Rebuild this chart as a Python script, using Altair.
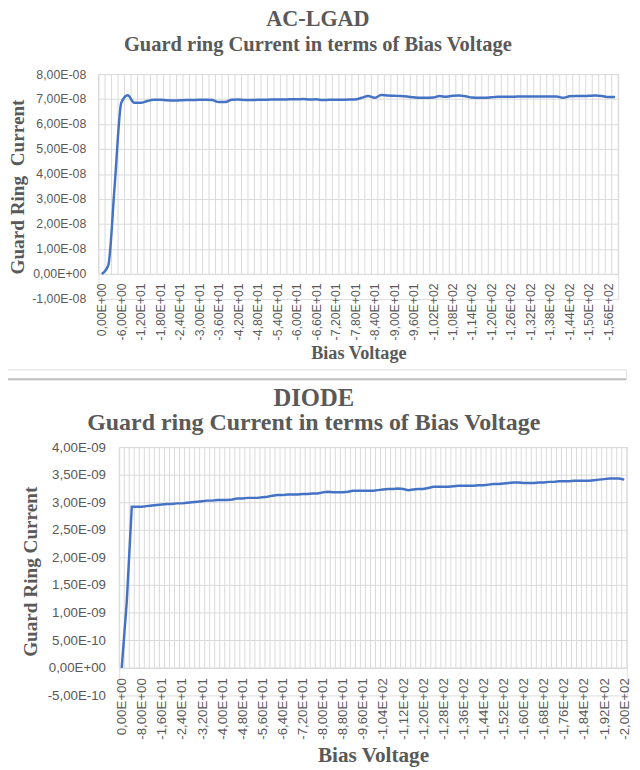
import altair as alt
import pandas as pd

# ---------------- data ----------------
TOP_TITLE = "AC-LGAD"
BOTTOM_TITLE = "DIODE"
SUBTITLE = "Guard ring Current in terms of Bias Voltage"
X_TITLE = "Bias Voltage"
TOP_Y_TITLE = "Guard Ring\u00a0 Current"
BOTTOM_Y_TITLE = "Guard Ring Current"

# bias voltage categories (V)
TOP_VOLTAGE = list(range(0, -160, -2))
BOTTOM_VOLTAGE = list(range(0, -202, -2))

# guard ring current, AC-LGAD (units of 1E-08)
TOP_CURRENT_E8 = [
    0.00, 0.35, 3.60, 6.85, 7.15, 6.85, 6.85, 6.92, 6.97, 6.97,
    6.95, 6.94, 6.95, 6.96, 6.96, 6.97, 6.97, 6.96, 6.88, 6.88,
    6.97, 6.98, 6.96, 6.96, 6.97, 6.97, 6.98, 6.98, 6.98, 6.99,
    6.99, 7.00, 6.98, 6.99, 6.96, 6.97, 6.97, 6.97, 6.98, 6.98,
    7.05, 7.12, 7.05, 7.16, 7.14, 7.13, 7.12, 7.10, 7.07, 7.05,
    7.05, 7.06, 7.12, 7.09, 7.13, 7.14, 7.11, 7.06, 7.05, 7.05,
    7.07, 7.09, 7.09, 7.09, 7.10, 7.10, 7.10, 7.10, 7.10, 7.10,
    7.10, 7.05, 7.11, 7.12, 7.12, 7.13, 7.14, 7.12, 7.08, 7.08,
]

# guard ring current, DIODE (units of 1E-09)
BOTTOM_CURRENT_E9 = [
    0.00, 1.20, 2.92, 2.92, 2.92, 2.93, 2.94, 2.95, 2.96, 2.97,
    2.97, 2.98, 2.98, 2.99, 3.00, 3.01, 3.02, 3.03, 3.03, 3.04,
    3.04, 3.04, 3.05, 3.07, 3.07, 3.08, 3.08, 3.08, 3.09, 3.10,
    3.12, 3.13, 3.13, 3.14, 3.14, 3.14, 3.15, 3.15, 3.16, 3.16,
    3.18, 3.19, 3.18, 3.18, 3.18, 3.19, 3.21, 3.21, 3.21, 3.21,
    3.21, 3.22, 3.23, 3.24, 3.24, 3.25, 3.24, 3.22, 3.23, 3.24,
    3.24, 3.26, 3.28, 3.28, 3.28, 3.28, 3.29, 3.30, 3.30, 3.30,
    3.30, 3.31, 3.31, 3.32, 3.33, 3.33, 3.34, 3.35, 3.36, 3.36,
    3.35, 3.35, 3.35, 3.36, 3.36, 3.37, 3.37, 3.38, 3.38, 3.38,
    3.39, 3.39, 3.39, 3.39, 3.40, 3.41, 3.42, 3.43, 3.43, 3.43,
    3.41,
]

TOP_X_TICKS = list(range(0, -157, -6))
BOTTOM_X_TICKS = list(range(0, -201, -8))
TOP_Y_TICKS = [-1.0e-08, 0.0, 1.0e-08, 2.0e-08, 3.0e-08, 4.0e-08,
               5.0e-08, 6.0e-08, 7.0e-08, 8.0e-08]
BOTTOM_Y_TICKS = [-5.0e-10, 0.0, 5.0e-10, 1.0e-09, 1.5e-09, 2.0e-09,
                  2.5e-09, 3.0e-09, 3.5e-09, 4.0e-09]

# ---------------- styling ----------------
GRID = "#d9d9d9"
TEXT = "#595959"
LINE = "#4472C4"
SEP = "#bfbfbf"
SERIF = "Liberation Serif"
SANS = "Liberation Sans"


def sci_expr():
    f = "format(datum.value,'.2e')"
    man = f"replace(split({f},'e')[0],'\u2212','-')"
    ex = f"split({f},'e')[1]"
    return (f"replace({man},'.',',') + 'E' + slice({ex},0,1) + "
            f"(length({ex}) < 3 ? '0' : '') + slice({ex},1)")


def panel(volts, currents, xticks, yticks, title, ytitle, width, height,
          title_size, sub_size, sub_pad, title_offset, title_dx, axis_size,
          ytitle_size, xtitle_size, ytitle_pad, ylabel_pad, xlabel_pad,
          xtitle_pad, interp):
    ymin, ymax = yticks[0], yticks[-1]
    df = pd.DataFrame({"V": volts, "I": currents})
    bounds = [v + 1 for v in volts] + [volts[-1] - 1]
    gdf = pd.DataFrame({"V": bounds})

    xscale = alt.Scale(domain=[volts[0] + 1, volts[-1] - 1], nice=False, zero=False)
    yscale = alt.Scale(domain=[ymin, ymax], nice=False, zero=False)
    xoffset = -height * (0 - ymin) / (ymax - ymin)

    xaxis = alt.Axis(
        values=xticks, labelExpr=sci_expr(), labelAngle=-90, grid=False,
        ticks=False, domain=True, domainColor=GRID, offset=xoffset,
        labelFont=SANS, labelFontSize=axis_size, labelColor=TEXT,
        labelPadding=xlabel_pad, labelOverlap=False, labelBound=False, labelFlush=False,
        title=X_TITLE, titleFont=SERIF, titleFontSize=xtitle_size,
        titleFontWeight="bold", titleColor=TEXT, titlePadding=xtitle_pad,
    )
    yaxis = alt.Axis(
        values=yticks, labelExpr=sci_expr(), grid=True,
        gridColor=alt.condition("datum.value < 0", alt.value("transparent"), alt.value(GRID)),
        ticks=False, domain=False,
        labelFont=SANS, labelFontSize=axis_size, labelColor=TEXT,
        labelPadding=ylabel_pad, labelOverlap=False,
        title=ytitle, titleFont=SERIF, titleFontSize=ytitle_size,
        titleFontWeight="bold", titleColor=TEXT, titlePadding=ytitle_pad,
    )

    grid = alt.Chart(gdf).mark_rule(color=GRID, strokeWidth=1).encode(
        x=alt.X("V:Q", scale=xscale, axis=xaxis),
        y=alt.datum(0, scale=yscale, axis=yaxis),
        y2=alt.datum(ymax),
    )
    line = alt.Chart(df).mark_line(color=LINE, strokeWidth=2.5, interpolate=interp).encode(
        x=alt.X("V:Q", scale=xscale, axis=xaxis),
        y=alt.Y("I:Q", scale=yscale, axis=yaxis),
    )
    return alt.layer(grid, line).properties(
        width=width, height=height,
        title=alt.TitleParams(
            text=title, subtitle=SUBTITLE,
            font=SERIF, fontSize=title_size, fontWeight="bold", color=TEXT,
            lineHeight=title_size,
            subtitleFont=SERIF, subtitleFontSize=sub_size, subtitleFontWeight="bold",
            subtitleColor=TEXT, subtitleLineHeight=sub_size, subtitlePadding=sub_pad,
            anchor="middle", frame="bounds", offset=title_offset, dx=title_dx,
        ),
    )


def spacer(w):
    # invisible, empty cell used only to push the next chart to the right
    return alt.Chart(pd.DataFrame({"s": [0]})).mark_text(text="").encode(
        x=alt.value(0), y=alt.value(0)
    ).properties(width=w, height=0,
                 view=alt.ViewBackground(strokeOpacity=0, fillOpacity=0))


# thin grey separator between the two figures
separator = alt.Chart(pd.DataFrame({"s": [0]})).mark_rule(color=SEP, strokeWidth=2).encode(
    x=alt.value(0), x2=alt.value(630), y=alt.value(10)
).properties(width=630, height=10)

top = panel(TOP_VOLTAGE, [v * 1e-8 for v in TOP_CURRENT_E8], TOP_X_TICKS, TOP_Y_TICKS,
            TOP_TITLE, TOP_Y_TITLE, 528, 228.5,
            title_size=22.5, sub_size=20.8, sub_pad=5, title_offset=14, title_dx=4,
            axis_size=12.5, ytitle_size=19.5, xtitle_size=18.5, ytitle_pad=4,
            ylabel_pad=13, xlabel_pad=9, xtitle_pad=4, interp="monotone")
bottom = panel(BOTTOM_VOLTAGE, [v * 1e-9 for v in BOTTOM_CURRENT_E9], BOTTOM_X_TICKS,
               BOTTOM_Y_TICKS, BOTTOM_TITLE, BOTTOM_Y_TITLE, 515.7, 252.3,
               title_size=25, sub_size=24.3, sub_pad=0, title_offset=5, title_dx=-12,
               axis_size=13.5, ytitle_size=19.5, xtitle_size=21.5, ytitle_pad=7,
               ylabel_pad=14, xlabel_pad=10, xtitle_pad=6, interp="linear")

chart = alt.concat(
    alt.hconcat(spacer(1), top, spacing=0),
    separator,
    alt.hconcat(spacer(14), bottom, spacing=0),
    columns=1, spacing=5,
).properties(
    align="none",
    padding={"left": -4, "top": -7, "right": 0, "bottom": 0},
).configure_view(stroke="white", fill="white", strokeWidth=0).configure(background="white")

chart.save("out.html", embed_options={"renderer": "svg", "actions": False})
